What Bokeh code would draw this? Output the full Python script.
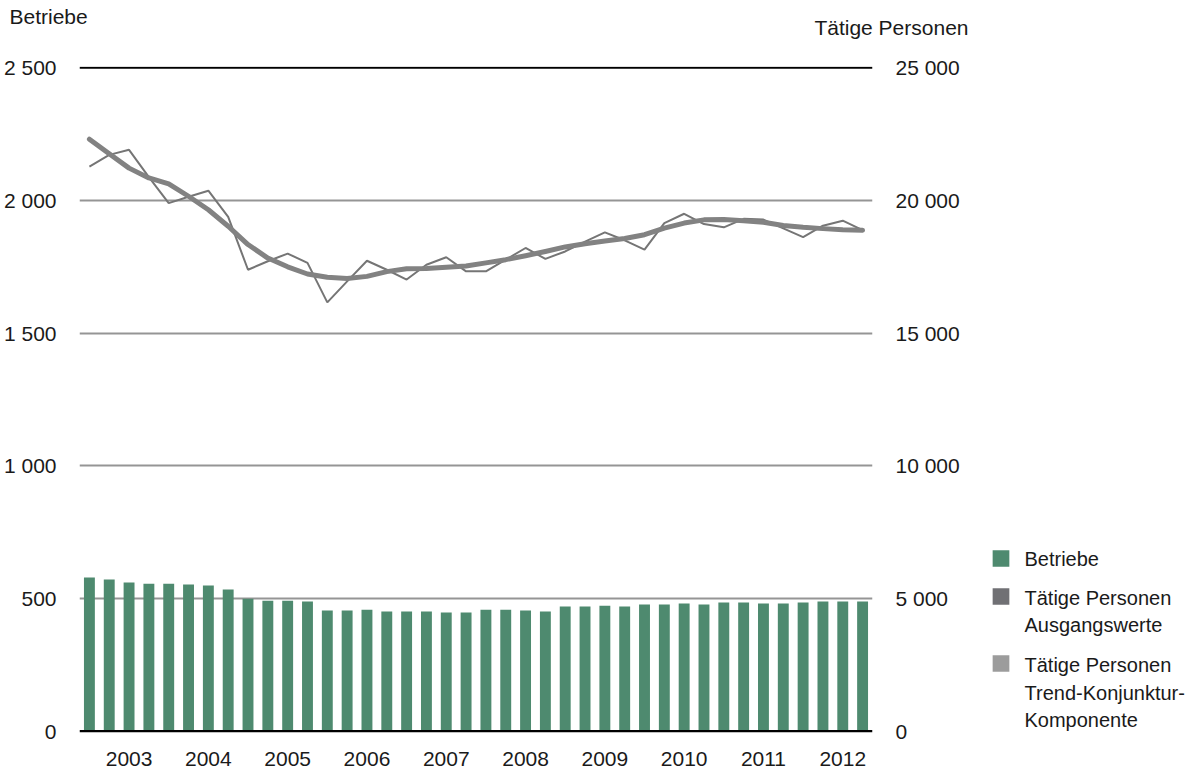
from bokeh.plotting import figure
from bokeh.models import Range1d, LinearAxis, FixedTicker, Span, ColumnDataSource
from bokeh.layouts import column, row
from bokeh.embed import file_html
from bokeh.resources import INLINE
from bokeh.core.properties import value

# ---- data (quarterly, 2003 Q1 .. 2012 Q4) ----
years = ["2003", "2004", "2005", "2006", "2007", "2008", "2009", "2010", "2011", "2012"]
betriebe = [579, 572, 560, 556, 556, 553, 549, 534,
            499, 492, 492, 489, 455, 455, 458, 451,
            451, 451, 447, 447, 458, 458, 455, 451,
            470, 470, 473, 470, 477, 477, 481, 477,
            485, 485, 481, 481, 485, 489, 489, 489]
personen_ausgang = [21280, 21720, 21910, 20880, 19900, 20140, 20370, 19380,
                    17390, 17710, 18000, 17650, 16160, 16950, 17730, 17390,
                    17020, 17580, 17860, 17330, 17330, 17770, 18210, 17800,
                    18080, 18450, 18800, 18500, 18150, 19150, 19500, 19110,
                    18990, 19310, 19280, 18950, 18620, 19050, 19240, 18880]
personen_trend = [22310, 21760, 21220, 20850, 20630, 20160, 19650, 19030,
                  18340, 17830, 17500, 17230, 17110, 17060, 17140, 17320,
                  17430, 17440, 17480, 17530, 17650, 17770, 17920, 18080,
                  18250, 18370, 18470, 18570, 18710, 18960, 19150, 19270,
                  19280, 19240, 19180, 19060, 18990, 18940, 18900, 18880]
left_ticks = [0, 500, 1000, 1500, 2000, 2500]
left_labels = ["0", "500", "1 000", "1 500", "2 000", "2 500"]
right_ticks = [0, 5000, 10000, 15000, 20000, 25000]
right_labels = ["0", "5 000", "10 000", "15 000", "20 000", "25 000"]
legend_labels = ["Betriebe", "Tätige Personen\nAusgangswerte", "Tätige Personen\nTrend-Konjunktur-\nKomponente"]
legend_colors = ["#4e8a6f", "#707074", "#9c9c9c"]

FONT = "Liberation Sans"
FS = "21px"
LEG_FS = "20px"
TXT = "#1a1a1a"

HEAD_H = 46
MAIN_H = 728
TOP_B = 20
BOT_B = 42
MAIN_W = 970
LEG_W = 218


def blank(w, h, top=0, bottom=0):
    # a text/swatch panel whose data units are the panel's own pixels (y measured from the top)
    f = figure(width=w, height=h, output_backend="svg", toolbar_location=None,
               x_range=Range1d(0, w), y_range=Range1d(h - bottom, top),
               x_axis_type=None, y_axis_type=None, min_border=0)
    f.min_border_left = 0
    f.min_border_right = 0
    f.min_border_top = top
    f.min_border_bottom = bottom
    f.outline_line_color = None
    f.grid.grid_line_color = None
    return f


# ---- header with axis titles ----
head = blank(MAIN_W + LEG_W, HEAD_H)
head.text(x=[9], y=[16], text=["Betriebe"], text_align="left", text_baseline="middle",
          text_font=value(FONT), text_font_size=FS, text_color=TXT)
head.text(x=[968], y=[27], text=["Tätige Personen"], text_align="right", text_baseline="middle",
          text_font=value(FONT), text_font_size=FS, text_color=TXT)

# ---- main chart ----
idx = list(range(len(betriebe)))
src = ColumnDataSource(dict(x=idx, b=betriebe, pa=personen_ausgang, pt=personen_trend))

p = figure(width=MAIN_W, height=MAIN_H, output_backend="svg", toolbar_location=None, title=None,
           x_range=Range1d(-0.5, 39.5), y_range=Range1d(-5, 2505),
           min_border_left=69, min_border_right=MAIN_W - 69 - 803,
           min_border_top=TOP_B, min_border_bottom=BOT_B)
p.extra_y_ranges = {"persons": Range1d(-50, 25050)}
p.outline_line_color = None
p.xgrid.grid_line_color = None
p.ygrid.ticker = FixedTicker(ticks=[500, 1000, 1500, 2000])
p.ygrid.grid_line_color = "#959595"
p.ygrid.grid_line_width = 2

ya = p.yaxis[0]
ya.ticker = FixedTicker(ticks=left_ticks)
ya.major_label_overrides = {t: l for t, l in zip(left_ticks, left_labels)}

ra = LinearAxis(y_range_name="persons", ticker=FixedTicker(ticks=right_ticks))
ra.major_label_overrides = {t: l for t, l in zip(right_ticks, right_labels)}
p.add_layout(ra, "right")

xa = p.xaxis[0]
xt = [2 + 4 * i for i in range(len(years))]
xa.ticker = FixedTicker(ticks=xt)
xa.major_label_overrides = {t: y for t, y in zip(xt, years)}

for ax, so in ((ya, 23), (ra, 23), (xa, 19)):
    ax.axis_line_color = None
    ax.major_tick_line_color = None
    ax.minor_tick_line_color = None
    ax.major_tick_out = 0
    ax.major_tick_in = 0
    ax.major_label_standoff = so
    ax.major_label_text_font = FONT
    ax.major_label_text_font_size = FS
    ax.major_label_text_color = TXT

p.vbar(x="x", top="b", width=0.55, bottom=0, source=src, fill_color=legend_colors[0], line_color=None)
p.line(x="x", y="pa", source=src, y_range_name="persons", line_color="#757575", line_width=2)
p.line(x="x", y="pt", source=src, y_range_name="persons", line_color="#828282", line_width=5,
       line_cap="round", line_join="round")

p.add_layout(Span(location=2500, dimension="width", line_color="black", line_width=2))
p.add_layout(Span(location=0, dimension="width", line_color="black", line_width=2.5))

# ---- legend panel ----
leg = blank(LEG_W, MAIN_H, top=TOP_B, bottom=BOT_B)
sq_y = [512, 550, 617]
leg.rect(x=[30.5] * 3, y=sq_y, width=16.7, height=16.7, fill_color=legend_colors, line_color=None)
line_y = [[512.7], [551, 578], [618, 646, 673.7]]
for lab, ys in zip(legend_labels, line_y):
    parts = lab.split("\n")
    leg.text(x=[54] * len(parts), y=ys, text=parts, text_align="left", text_baseline="middle",
             text_font=value(FONT), text_font_size=LEG_FS, text_color=TXT)

layout = column(head, row(p, leg, spacing=0), spacing=0)
open("out.html", "w").write(file_html(layout, INLINE))
